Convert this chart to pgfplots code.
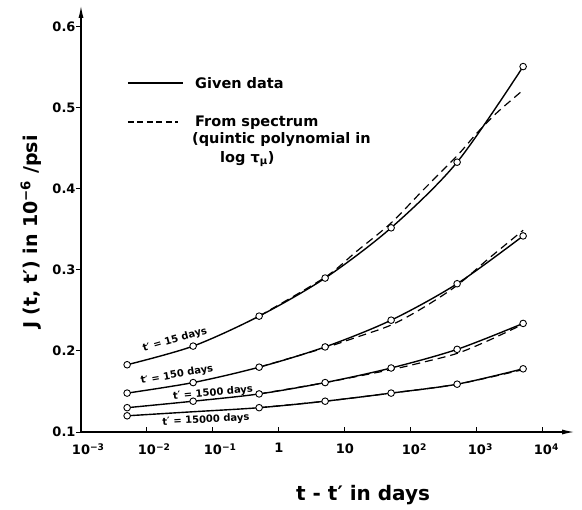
\documentclass[border=0pt]{standalone}
\usepackage{fontspec}
\setmainfont{DejaVu Sans}
\usepackage{pgfplots}
\pgfplotsset{compat=1.18}
\usetikzlibrary{arrows.meta}

\pgfplotsset{
  given/.style={black, line width=1.4pt, smooth, mark=*,
    mark size=3.3bp, mark options={fill=white, draw=black, line width=0.9pt, solid}},
  spectrum/.style={black, line width=1.2pt, smooth, no marks,
    dash pattern=on 8bp off 5bp},
}
\tikzset{curvelab/.style={font=\bfseries\fontsize{10bp}{12bp}\selectfont, inner sep=0pt}}

\begin{document}
\begin{tikzpicture}
\begin{axis}[
  scale only axis, width=494bp, height=427bp,
  xmode=log, xmin=1e-3, xmax=30549, ymin=0.1, ymax=0.627,
  axis lines=left,
  axis line style={line width=1.5pt, -{Latex[length=13bp,width=5bp]}},
  xtick={1e-3,1e-2,1e-1,1,10,100,1000,10000},
  xticklabels={10\rlap{\textsuperscript{−3}},10\rlap{\textsuperscript{−2}},10\rlap{\textsuperscript{−1}},1,10,10\rlap{\textsuperscript{2}},10\rlap{\textsuperscript{3}},10\rlap{\textsuperscript{4}}},
  xminorticks=false,
  ytick={0.1,0.2,0.3,0.4,0.5,0.6},
  yticklabels={0.1,0.2,0.3,0.4,0.5,0.6},
  xtick align=inside, ytick align=outside,
  major tick length=5bp,
  tick style={line width=1pt, black},
  tick label style={font=\bfseries\fontsize{13bp}{16bp}\selectfont},
  yticklabel style={xshift=3bp},
  xticklabel style={font=\bfseries\fontsize{13bp}{16bp}\selectfont, yshift=-8bp},
  /pgf/number format/assume math mode=true,
  xlabel={t - t′ in days},
  xlabel style={at={(axis description cs:0.571,-0.1475)}, anchor=center,
    font=\bfseries\fontsize{20bp}{24bp}\selectfont},
  ylabel={J (t, t′) in 10\textsuperscript{−6} /psi},
  ylabel style={at={(axis description cs:-0.101,0.468)}, anchor=center,
    font=\bfseries\fontsize{19bp}{23bp}\selectfont},
  clip=false,
]
% t' = 15 days
\addplot[given] coordinates {(0.005,0.183) (0.05,0.206) (0.5,0.243) (5,0.290) (50,0.352) (500,0.433) (5000,0.551)};
\addplot[spectrum] coordinates {(0.5,0.243) (5,0.291) (15,0.323) (50,0.358) (150,0.398) (500,0.441) (1000,0.469) (2000,0.494) (5000,0.522)};
% t' = 150 days
\addplot[given] coordinates {(0.005,0.148) (0.05,0.161) (0.5,0.180) (5,0.205) (50,0.238) (500,0.283) (5000,0.342)};
\addplot[spectrum] coordinates {(0.5,0.180) (5,0.204) (15,0.217) (50,0.232) (150,0.253) (500,0.281) (1500,0.314) (5000,0.349)};
% t' = 1500 days
\addplot[given] coordinates {(0.005,0.130) (0.05,0.138) (0.5,0.147) (5,0.161) (50,0.179) (500,0.202) (5000,0.234)};
\addplot[spectrum] coordinates {(0.5,0.147) (5,0.161) (50,0.177) (150,0.186) (500,0.197) (1500,0.213) (5000,0.233)};
% t' = 15000 days
\addplot[given, mark indices={1,3,4,5,6,7}] coordinates {(0.005,0.120) (0.05,0.125) (0.5,0.130) (5,0.138) (50,0.148) (500,0.159) (5000,0.178)};
\addplot[spectrum] coordinates {(0.5,0.130) (5,0.138) (50,0.148) (500,0.159) (5000,0.177)};

\node[curvelab, rotate=16] at (axis cs:0.0265,0.2136) {t′ = 15 days};
\node[curvelab, rotate=10] at (axis cs:0.0285,0.1704) {t′ = 150 days};
\node[curvelab, rotate=5] at (axis cs:0.1,0.1481) {t′ = 1500 days};
\node[curvelab, rotate=3] at (axis cs:0.0783,0.1148) {t′ = 15000 days};

% legend
\draw[black, line width=1.3pt] (rel axis cs:0.0951,0.8173) -- (rel axis cs:0.2065,0.8173);
\draw[black, line width=1.2pt, dash pattern=on 6bp off 3.5bp] (rel axis cs:0.0951,0.726) -- (rel axis cs:0.1964,0.726);
\begin{scope}[every node/.style={font=\bfseries\fontsize{14.5bp}{17bp}\selectfont, inner sep=0pt, anchor=base west}]
\node at (rel axis cs:0.2308,0.8033) {Given data};
\node at (rel axis cs:0.2308,0.7166) {From spectrum};
\node at (rel axis cs:0.2247,0.6745) {(quintic polynomial in};
\node at (rel axis cs:0.2814,0.6323) {log τ\textsubscript{μ})};
\end{scope}
\coordinate (O) at (rel axis cs:0,0);
\end{axis}
\path (O) ++(-81bp,-78bp) rectangle ++(582bp,510bp);
\end{tikzpicture}
\end{document}
